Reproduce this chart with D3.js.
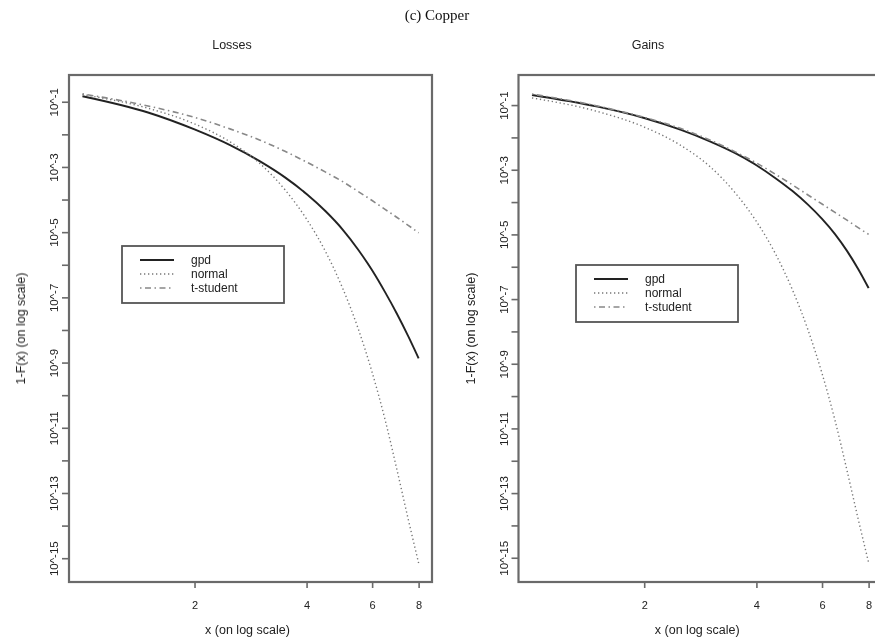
<!DOCTYPE html>
<html>
<head>
<meta charset="utf-8">
<script src="https://cdn.jsdelivr.net/npm/d3@7"></script>
<style>
  body { margin: 0; background: #fff; }
  text { font-family: "Liberation Sans", Arial, sans-serif; fill: #222; }
</style>
</head>
<body>
<div id="chart"></div>
<script>
// Data: x grid and log10 of 1-F(x)
const xs = [1, 1.5, 2, 2.5, 3, 3.5, 4, 4.5, 5, 5.5, 6, 6.5, 7, 7.5, 8];

const gpdLosses    = [-0.83, -1.33, -1.85, -2.34, -2.83, -3.32, -3.83, -4.36, -4.92, -5.53, -6.17, -6.84, -7.51, -8.19, -8.87];
const normalLosses = [-0.78, -1.20, -1.68, -2.24, -2.90, -3.70, -4.60, -5.60, -6.72, -7.95, -9.30, -10.75, -12.30, -13.80, -15.15];
const tLosses      = [-0.76, -1.13, -1.48, -1.84, -2.18, -2.52, -2.85, -3.16, -3.45, -3.75, -4.03, -4.30, -4.55, -4.79, -5.02];

const gpdGains     = [-0.69, -1.05, -1.40, -1.76, -2.12, -2.48, -2.86, -3.26, -3.66, -4.08, -4.52, -4.99, -5.51, -6.07, -6.66];
const normalGains  = [-0.78, -1.20, -1.68, -2.24, -2.90, -3.70, -4.60, -5.60, -6.72, -7.95, -9.30, -10.75, -12.30, -13.80, -15.15];
const tGains       = [-0.66, -1.03, -1.38, -1.72, -2.08, -2.44, -2.79, -3.14, -3.47, -3.78, -4.06, -4.32, -4.56, -4.79, -5.00];

const seriesNames = ["gpd", "normal", "t-student"];
const xTicks = [2, 4, 6, 8];
const yTickExps = d3.range(-1, -16, -1);   // ticks every decade, label on odd ones

const width = 875;
const height = 642;
const sans = "'Liberation Sans', Arial, sans-serif";

const styles = {
  "gpd":       { stroke: "#222", width: 1.9, dash: null },
  "normal":    { stroke: "#777", width: 1.4, dash: "1.3,2.7" },
  "t-student": { stroke: "#888", width: 1.6, dash: "1.5,3.5,6,3.5" }
};

const panels = [
  { title: "Losses", titleX: 232, x0: 69, x1: 432, yTop: -0.18, yBot: -15.73,
    series: [gpdLosses, normalLosses, tLosses], legend: { x: 122, y: 246, w: 162, h: 57 } },
  { title: "Gains", titleX: 648, x0: 518.5, x1: 882, yTop: -0.07, yBot: -15.75,
    series: [gpdGains, normalGains, tGains], legend: { x: 576, y: 265, w: 162, h: 57 } }
];

const plotTop = 75;
const plotBottom = 582;

const svg = d3.select("#chart")
  .append("svg")
  .attr("width", width)
  .attr("height", height);

// the reference is a soft scan, so blur everything a little
svg.append("defs").append("filter")
  .attr("id", "soft")
  .append("feGaussianBlur")
  .attr("stdDeviation", 0.45);

const root = svg.append("g").attr("filter", "url(#soft)");

// figure caption
root.append("text")
  .attr("x", 437)
  .attr("y", 20)
  .attr("text-anchor", "middle")
  .style("font-family", "'Liberation Serif', 'Times New Roman', serif")
  .style("font-size", "15px")
  .style("fill", "#111")
  .text("(c) Copper");

panels.forEach(p => {
  const x = d3.scaleLog().domain([0.92, 8.69]).range([p.x0, p.x1]);
  const y = d3.scaleLog().domain([Math.pow(10, p.yTop), Math.pow(10, p.yBot)]).range([plotTop, plotBottom]);

  const g = root.append("g");

  // title
  g.append("text")
    .attr("x", p.titleX)
    .attr("y", 49)
    .attr("text-anchor", "middle")
    .style("font-family", sans)
    .style("font-size", "12.5px")
    .text(p.title);

  // curves
  const line = d3.line()
    .x(d => x(d[0]))
    .y(d => y(Math.pow(10, d[1])))
    .curve(d3.curveMonotoneX);

  p.series.forEach((vals, i) => {
    const st = styles[seriesNames[i]];
    g.append("path")
      .datum(xs.map((v, k) => [v, vals[k]]))
      .attr("d", line)
      .attr("fill", "none")
      .attr("stroke", st.stroke)
      .attr("stroke-width", st.width)
      .attr("stroke-dasharray", st.dash);
  });

  // box
  g.append("rect")
    .attr("x", p.x0)
    .attr("y", plotTop)
    .attr("width", p.x1 - p.x0)
    .attr("height", plotBottom - plotTop)
    .attr("fill", "none")
    .attr("stroke", "#6a6a6a")
    .attr("stroke-width", 2.2);

  // y axis
  g.append("g")
    .attr("transform", `translate(${p.x0},0)`)
    .call(d3.axisLeft(y)
      .tickValues(yTickExps.map(e => Math.pow(10, e)))
      .tickSize(7)
      .tickFormat((d, i) => (yTickExps[i] % 2 !== 0) ? `10^${yTickExps[i]}` : ""))
    .call(a => a.select(".domain").remove())
    .call(a => a.selectAll("line").attr("stroke", "#6a6a6a").attr("stroke-width", 1.6))
    .call(a => a.selectAll("text")
      .attr("transform", "rotate(-90)")
      .attr("x", 0)
      .attr("y", -11)
      .attr("dy", 0)
      .attr("text-anchor", "middle")
      .style("font-family", sans)
      .style("font-size", "11.5px")
      .attr("fill", "#222"));

  // x axis
  g.append("g")
    .attr("transform", `translate(0,${plotBottom})`)
    .call(d3.axisBottom(x)
      .tickValues(xTicks)
      .tickSize(6)
      .tickFormat(d3.format("d")))
    .call(a => a.select(".domain").remove())
    .call(a => a.selectAll("line").attr("stroke", "#6a6a6a").attr("stroke-width", 1.6))
    .call(a => a.selectAll("text")
      .attr("y", 27)
      .attr("dy", 0)
      .style("font-family", sans)
      .style("font-size", "11px")
      .attr("fill", "#222"));

  // axis labels
  g.append("text")
    .attr("x", (p.x0 + p.x1) / 2 - 3)
    .attr("y", 634)
    .attr("text-anchor", "middle")
    .style("font-family", sans)
    .style("font-size", "12.5px")
    .text("x (on log scale)");

  g.append("text")
    .attr("transform", `translate(${p.x0 - 44},${(plotTop + plotBottom) / 2}) rotate(-90)`)
    .attr("text-anchor", "middle")
    .style("font-family", sans)
    .style("font-size", "12.5px")
    .text("1-F(x) (on log scale)");

  // legend
  const lg = g.append("g").attr("transform", `translate(${p.legend.x},${p.legend.y})`);
  lg.append("rect")
    .attr("width", p.legend.w)
    .attr("height", p.legend.h)
    .attr("fill", "#fff")
    .attr("stroke", "#555")
    .attr("stroke-width", 1.8);

  const rows = lg.selectAll("g.row")
    .data(seriesNames)
    .enter().append("g")
    .attr("class", "row")
    .attr("transform", (d, i) => `translate(0,${14 + i * 14})`);

  rows.append("line")
    .attr("x1", 18)
    .attr("x2", 52)
    .attr("stroke", d => styles[d].stroke)
    .attr("stroke-width", d => styles[d].width)
    .attr("stroke-dasharray", d => styles[d].dash);

  rows.append("text")
    .attr("x", 69)
    .attr("y", 4)
    .style("font-family", sans)
    .style("font-size", "12px")
    .text(d => d);
});
</script>
</body>
</html>
